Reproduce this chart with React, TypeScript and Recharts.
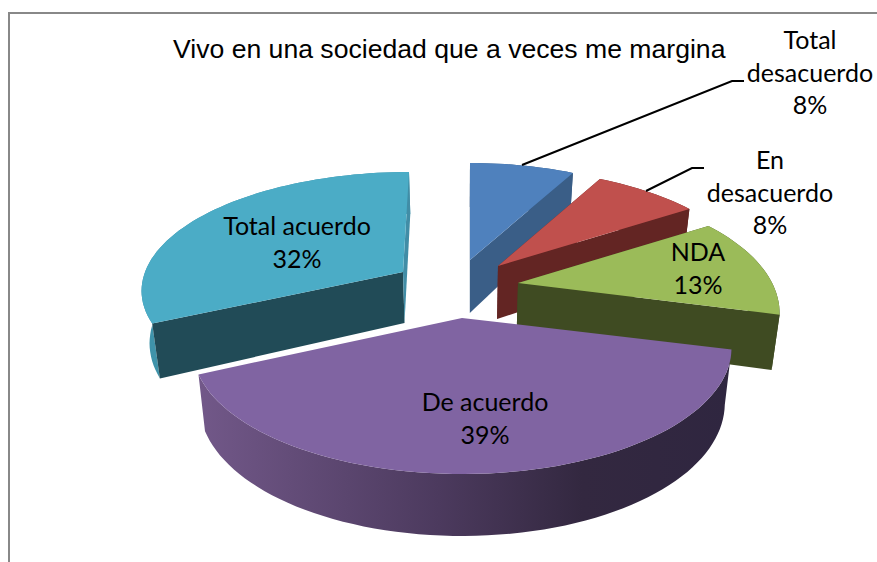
import { PieChart, Pie } from 'recharts';

const categories = ['Total desacuerdo', 'En desacuerdo', 'NDA', 'De acuerdo', 'Total acuerdo'];
const percents = [8, 8, 13, 39, 32];
const data = categories.map((name, i) => ({ name, value: percents[i] }));

// how each slice is drawn: explode offset from the pie centre, colours, projection
const sliceLook: Record<string, any> = {
  'Total desacuerdo': { dx: 8, dy: -15, top: '#4f81bd', arc: '#3a5e87', startFace: '#3a5e87', endFace: '#3a5e87' },
  'En desacuerdo': { dx: 36, dy: -9, top: '#c0504d', arc: '#632523', startFace: '#632523', endFace: '#632523', scale: 0.99 },
  NDA: { dx: 56, dy: 8, top: '#9bbb59', arc: '#3f4b22', startFace: '#3f4b22', endFace: '#3f4b22', scale: 0.985 },
  'De acuerdo': { dx: 0, dy: 43, top: '#8064a2', arc: 'url(#purpleWall)', startFace: 'none', endFace: 'none', scale: 1.015, squash: 119 },
  'Total acuerdo': { dx: -59, dy: -3, top: '#4bacc6', arc: '#3f93aa', startFace: '#214b57', endFace: '#418da6', squash: 114, tilt: 0.14, lean: 6, depth: 51 },
};

const labelLines: Record<string, string[]> = {
  'Total desacuerdo': ['Total', 'desacuerdo'],
  'En desacuerdo': ['En', 'desacuerdo'],
  NDA: ['NDA'],
  'De acuerdo': ['De acuerdo'],
  'Total acuerdo': ['Total acuerdo'],
};
const labelPos: Record<string, { x: number; y: number }> = {
  'Total desacuerdo': { x: 810, y: 49 },
  'En desacuerdo': { x: 770, y: 169 },
  NDA: { x: 698, y: 261 },
  'De acuerdo': { x: 485, y: 411 },
  'Total acuerdo': { x: 297, y: 235 },
};
const leaders: Record<string, string> = {
  'Total desacuerdo': '522,165 732,81 744,81',
  'En desacuerdo': '646,191 692,168 704,168',
};

const CX = 462;
const CY = 275;
const RADIUS = 258;

function Slice3D(props: any) {
  const { startAngle, endAngle, outerRadius, cx, cy, name } = props;
  const look = sliceLook[name];
  const ax = cx + look.dx;
  const ay = cy + look.dy;
  const R = outerRadius * (look.scale ?? 1);
  const K = look.squash ?? 120;
  const p = look.tilt ?? 0.237;
  const lean = look.lean ?? 0;
  const depth = look.depth ?? 53;

  const project = (deg: number) => {
    const a = (deg * Math.PI) / 180;
    const u = Math.cos(a);
    const v = -Math.sin(a);
    const f = 1 / (1 - p * v);
    return { x: ax + R * u * f - lean * v, y: ay + K * v * f, v };
  };
  const drop = (q: { x: number; y: number; v: number }) => ({
    x: q.x - 0.025 * (q.x - cx),
    y: q.y + depth + 9 * q.v,
    v: q.v,
  });
  const toPath = (pts: { x: number; y: number }[]) =>
    'M' + pts.map((q) => `${q.x.toFixed(1)},${q.y.toFixed(1)}`).join('L') + 'Z';

  const steps = Math.max(4, Math.ceil(Math.abs(endAngle - startAngle) / 2));
  const arc = [];
  for (let i = 0; i <= steps; i++) {
    arc.push(project(startAngle + ((endAngle - startAngle) * i) / steps));
  }
  const apex = { x: ax, y: ay, v: 0 };
  const apexLow = drop(apex);
  const first = arc[0];
  const last = arc[arc.length - 1];

  return (
    <g>
      <path d={toPath([...arc, ...arc.map(drop).reverse()])} fill={look.arc} />
      <path d={toPath([apex, first, drop(first), apexLow])} fill={look.startFace} />
      <path d={toPath([apex, last, drop(last), apexLow])} fill={look.endFace} />
      <path d={toPath([apex, ...arc])} fill={look.top} />
    </g>
  );
}

function SliceLabel(props: any) {
  const { name, value } = props;
  const pos = labelPos[name];
  const lines = [...labelLines[name], `${value}%`];
  return (
    <g>
      {leaders[name] && <polyline points={leaders[name]} fill="none" stroke="#000" strokeWidth={2} />}
      <text textAnchor="middle" fontFamily="Lato" fontSize={25} fill="#000">
        {lines.map((line, i) => (
          <tspan key={line} x={pos.x} y={pos.y + i * 32.5}>
            {line}
          </tspan>
        ))}
      </text>
    </g>
  );
}

export default function App() {
  return (
    <div style={{ position: 'fixed', left: 0, top: 0, width: 877, height: 562, background: '#fff' }}>
      <PieChart width={877} height={562} margin={{ top: 0, right: 0, bottom: 0, left: 0 }}>
        <defs>
          <linearGradient id="purpleWall" gradientUnits="userSpaceOnUse" x1="198" y1="0" x2="732" y2="0">
            <stop offset="0" stopColor="#725889" />
            <stop offset="0.45" stopColor="#4c3a5e" />
            <stop offset="0.72" stopColor="#332840" />
            <stop offset="1" stopColor="#2f2640" />
          </linearGradient>
        </defs>
        <path d="M9,562V13H877" fill="none" stroke="#888" strokeWidth={2} />
        <text x={173} y={58} fontFamily="Liberation Sans" fontSize={26.6} fill="#000">
          Vivo en una sociedad que a veces me margina
        </text>
        <Pie
          data={data}
          dataKey="value"
          nameKey="name"
          cx={CX}
          cy={CY}
          innerRadius={0}
          outerRadius={RADIUS}
          startAngle={90}
          endAngle={-270}
          stroke="none"
          shape={Slice3D}
          label={SliceLabel}
          labelLine={false}
          isAnimationActive={false}
        />
      </PieChart>
    </div>
  );
}
